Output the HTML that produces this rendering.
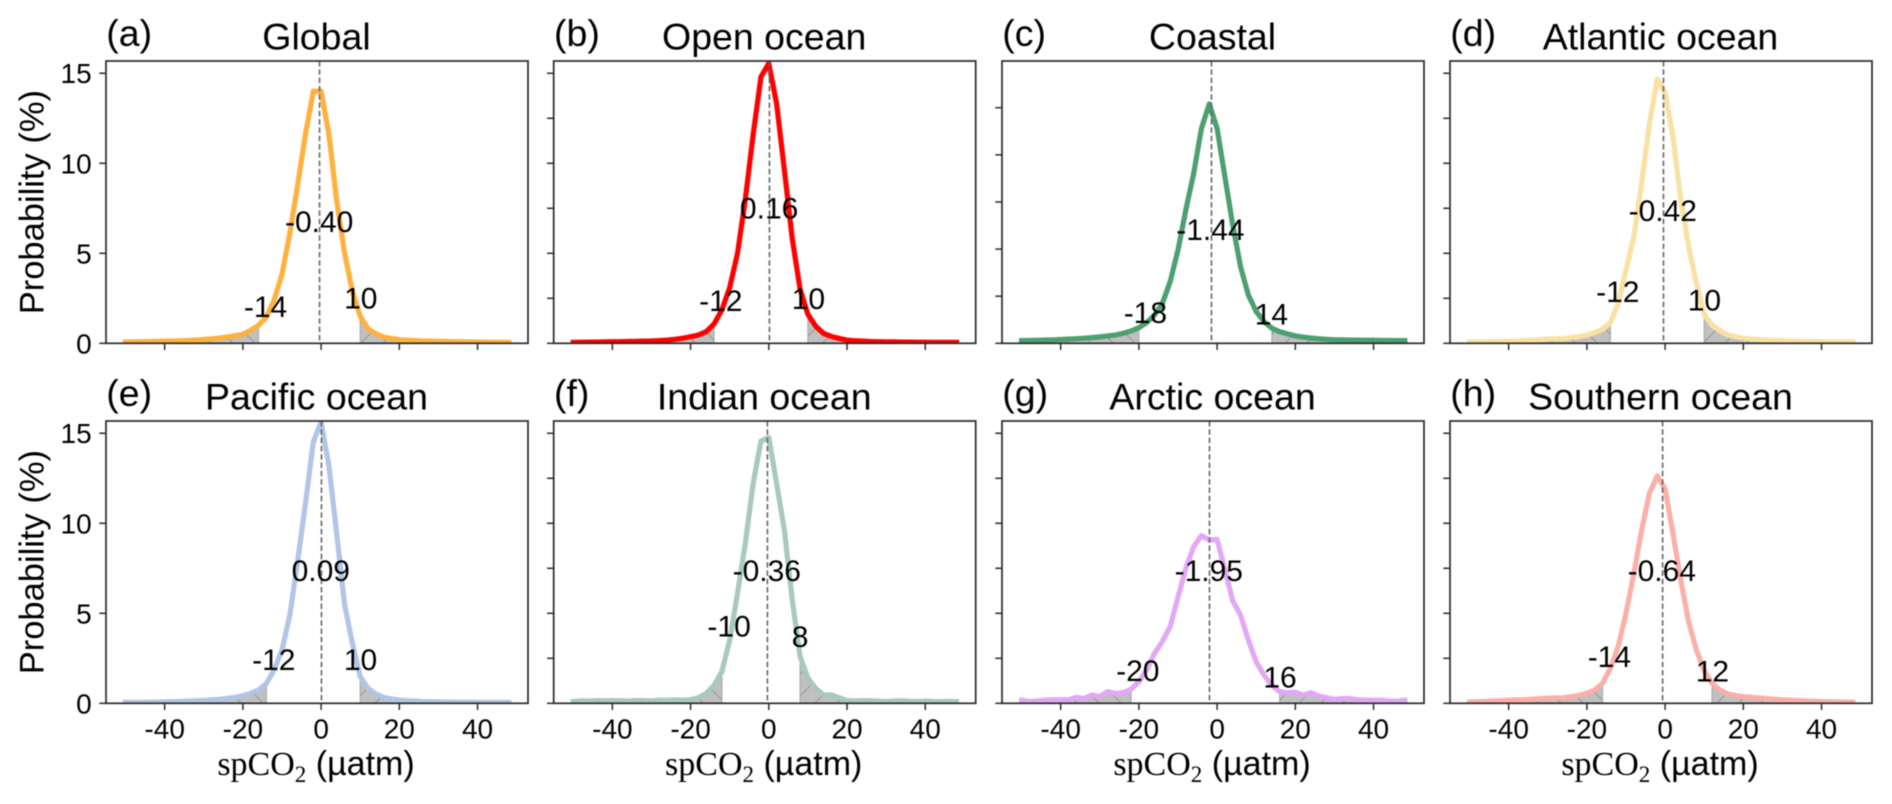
<!DOCTYPE html>
<html lang="en">
<head>
<meta charset="utf-8">
<title>spCO2 probability distributions</title>
<style>
  html, body { margin: 0; padding: 0; background: #fff; }
  body { width: 1892px; height: 804px; overflow: hidden; }
  svg { display: block; filter: blur(0.45px); }
  text { font-family: "Liberation Sans", sans-serif; fill: #000; }
</style>
</head>
<body>
<svg id="figure" xmlns="http://www.w3.org/2000/svg" width="1892" height="804" viewBox="0 0 1892 804">
  <defs>
    <pattern id="hatch-back" patternUnits="userSpaceOnUse" width="22" height="22">
      <path d="M-4,-4 L26,26 M-4,18 L4,26 M18,-4 L26,4" stroke="#969696" stroke-width="1"></path>
    </pattern>
    <pattern id="hatch-fwd" patternUnits="userSpaceOnUse" width="22" height="22">
      <path d="M-4,26 L26,-4 M-4,4 L4,-4 M18,26 L26,18" stroke="#969696" stroke-width="1"></path>
    </pattern>
  </defs>
</svg>
<script>
// ---------- shared x categories (bin centres, µatm) ----------
const bins = [-50,-48,-46,-44,-42,-40,-38,-36,-34,-32,-30,-28,-26,-24,-22,-20,-18,-16,-14,-12,-10,-8,-6,-4,-2,
              0,2,4,6,8,10,12,14,16,18,20,22,24,26,28,30,32,34,36,38,40,42,44,46,48];

// ---------- series values (probability, %) ----------
const globalProb = [.07,.08,.09,.1,.11, .12,.13,.14,.16,.18, .21,.25,.29,.35,.42, .5,.72,1.0,1.45,2.4, 3.85,6.1,8.8,11.6,14.0,
                    14.0,11.6,7.9,5.0,2.9, 1.5,.8,.53,.35,.27, .2,.17,.15,.13,.12, .11,.1,.09,.08,.08, .07,.07,.06,.06,.05];
const openProb = [.05,.06,.07,.07,.08, .09,.09,.1,.11,.12, .13,.15,.18,.22,.28, .37,.46,.65,1.07,1.85, 3.1,5.0,8.0,11.6,14.8,
                  15.55,13.3,9.6,5.8,3.0, 1.6,.95,.55,.38,.27, .18,.14,.12,.1,.09, .08,.08,.07,.07,.06, .06,.05,.05,.05,.05];
const coastalProb = [.14,.15,.16,.17,.18, .2,.22,.24,.27,.3, .34,.39,.44,.53,.65, .83,1.1,1.5,2.12,3.27, 4.95,7.07,9.0,11.4,12.7,
                     11.4,8.83,6.27,4.06,2.56, 1.68,1.15,.8,.62,.5, .39,.33,.28,.24,.21, .19,.18,.17,.17,.16, .16,.15,.15,.14,.14];
const atlanticProb = [.07,.08,.09,.1,.11, .12,.13,.15,.17,.2, .24,.25,.26,.31,.37, .46,.6,.78,1.15,2.2, 4.07,5.9,8.9,12.2,14.67,
                      13.9,11.5,8.0,5.4,3.33, 1.6,1.0,.7,.46,.37, .28,.24,.2,.18,.16, .14,.13,.12,.11,.1, .09,.09,.08,.08,.07];
const pacificProb = [.05,.05,.05,.06,.07, .08,.09,.1,.12,.14, .16,.19,.22,.27,.33, .42,.55,.74,1.1,1.85, 2.96,4.9,7.9,11.1,14.5,
                     15.63,13.2,9.4,5.5,3.33, 1.48,.83,.52,.33,.24, .18,.14,.12,.1,.09, .08,.07,.07,.06,.06, .05,.05,.05,.05,.05];
const indianProb = [.1,.14,.12,.15,.14, .15,.14,.12,.16,.15, .13,.17,.16,.19,.17, .2,.31,.55,1.0,1.76, 3.5,6.1,8.9,12.2,14.57,
                    14.76,12.2,9.6,5.74,2.6, 1.4,.83,.46,.46,.31, .15,.13,.15,.14,.12, .1,.12,.14,.11,.1, .12,.1,.09,.11,.1];
const arcticProb = [.17,.11,.13,.17,.19, .2,.2,.33,.26,.46, .37,.65,.54,.59,.78, 1.2,1.85,2.78,3.43,4.26, 5.9,7.5,8.7,9.31,9.07,
                    9.1,7.4,5.69,4.9,3.5, 2.3,1.57,1.0,.65,.59, .62,.46,.59,.4,.31, .22,.26,.26,.19,.17, .17,.17,.13,.11,.17];
const southernProb = [.07,.09,.11,.13,.15, .18,.19,.2,.23,.26, .28,.3,.31,.37,.44, .56,.74,1.11,1.94,3.15, 5.0,7.2,9.63,11.67,12.63,
                      11.9,9.44,6.85,4.54,2.96, 1.81,1.11,.74,.52,.43, .37,.33,.3,.26,.22, .19,.17,.15,.13,.12, .1,.09,.08,.07,.07];
const seriesValues = [globalProb, openProb, coastalProb, atlanticProb, pacificProb, indianProb, arcticProb, southernProb];

// ---------- per-panel statistics and labels ----------
const panelTitles = ['Global','Open ocean','Coastal','Atlantic ocean','Pacific ocean','Indian ocean','Arctic ocean','Southern ocean'];
const panelLetters = ['(a)','(b)','(c)','(d)','(e)','(f)','(g)','(h)'];
const panelSlugs = ['global','open-ocean','coastal','atlantic-ocean','pacific-ocean','indian-ocean','arctic-ocean','southern-ocean'];
const medians = [-0.40, 0.16, -1.44, -0.42, 0.09, -0.36, -1.95, -0.64];
const medianLabels = ['-0.40','0.16','-1.44','-0.42','0.09','-0.36','-1.95','-0.64'];
const lowerLabels = ['-14','-12','-18','-12','-12','-10','-20','-14'];
const upperLabels = ['10','10','14','10','10','8','16','12'];
const lowerCuts = [-16,-14,-20,-14,-14,-12,-22,-16];
const upperCuts = [10,10,14,10,10,8,16,12];

// Annotation anchors, in data units
const medianAnchorX = [-0.5,0.08,-1.71,-0.59,-0.08,-0.51,-2.12,-0.84];
const medianAnchorY = [6.18,6.93,5.47,6.79,6.79,6.79,6.79,6.79];
const lowerAnchorX = [-14.2,-12.28,-18.34,-12.1,-12.1,-10.15,-20.28,-14.25];
const lowerAnchorY = [1.46,1.79,1.08,2.29,1.85,3.7,1.24,2.03];
const upperAnchorX = [10.15,10.13,13.89,10.05,10.08,8.0,16.1,12.1];
const upperAnchorY = [1.93,1.91,1.01,1.83,1.85,3.14,0.89,1.2];

// ---------- tick labels ----------
const xTickValues = [-40,-20,0,20,40];
const yTicksLabelled = [0,5,10,15];
const yTicksFine = [0,2.5,5,7.5,10,12.5,15];
const yTicksCoastal = [0,2.5,5,7.5,10,12.5];

// ---------- styling and frame layout ----------
const lineColors = ['#ffb13d','#ff0000','#4c9f70','#f9e1a4','#b1c5e6','#a8c9bb','#e2a8f6','#fab0a8'];
const frameLefts = [106,553.7,1002,1450];
const frameWidth = 422;
const frameTops = [61,421];
const frameHeight = 282.3;
const xDomain = [-55, 52.9];
const yDomainTop = [15.68,15.68,14.98,15.68,15.68,15.68,15.68,15.68];

const NS = 'http://www.w3.org/2000/svg';
const root = document.getElementById('figure');

function make(tag, attrs, parent) {
  const node = document.createElementNS(NS, tag);
  for (const key in attrs) node.setAttribute(key, attrs[key]);
  parent.appendChild(node);
  return node;
}

seriesValues.forEach(function (values, p) {
  const col = p % 4;
  const row = Math.floor(p / 4);
  const left = frameLefts[col];
  const top = frameTops[row];
  const bottom = top + frameHeight;
  const slug = panelSlugs[p];

  const xScale = function (v) { return left + (v - xDomain[0]) / (xDomain[1] - xDomain[0]) * frameWidth; };
  const yScale = function (v) { return bottom - v / yDomainTop[p] * frameHeight; };

  const group = make('g', {}, root);
  
  

  const clip = make('clipPath', { id: 'clip-' + p }, group);
  make('rect', { x: left, y: top, width: frameWidth, height: frameHeight }, clip);

  // shaded tails
  const lowerIdx = bins.map(function (b, i) { return i; }).filter(function (i) { return bins[i] <= lowerCuts[p]; });
  const upperIdx = bins.map(function (b, i) { return i; }).filter(function (i) { return bins[i] >= upperCuts[p]; });
  const tailPath = function (idx) {
    let d = 'M' + xScale(bins[idx[0]]) + ',' + yScale(0);
    idx.forEach(function (i) { d += ' L' + xScale(bins[i]) + ',' + yScale(values[i]); });
    d += ' L' + xScale(bins[idx[idx.length - 1]]) + ',' + yScale(0) + ' Z';
    return d;
  };
  [[lowerIdx, 'hatch-back', 'lower'], [upperIdx, 'hatch-fwd', 'upper']].forEach(function (tail) {
    const base = make('path', { d: tailPath(tail[0]), fill: '#c0c0c0', stroke: '#adadad', 'stroke-width': 1.2 }, group);
    
    
    const hatch = make('path', { d: tailPath(tail[0]), fill: 'url(#' + tail[1] + ')' }, group);
    
    
  });

  // distribution line
  const pts = bins.map(function (b, i) { return xScale(b).toFixed(2) + ',' + yScale(values[i]).toFixed(2); }).join(' ');
  const line = make('polyline', {
    points: pts, fill: 'none', stroke: lineColors[p], 'stroke-width': 5.2,
    'stroke-linejoin': 'round', 'stroke-linecap': 'square', 'clip-path': 'url(#clip-' + p + ')'
  }, group);
  
  

  // median line
  const med = make('line', {
    x1: xScale(medians[p]), x2: xScale(medians[p]), y1: top, y2: bottom,
    stroke: '#666', 'stroke-width': 1.6, 'stroke-dasharray': '5.5 2.8'
  }, group);
  
  

  // frame
  const frame = make('rect', { x: left, y: top, width: frameWidth, height: frameHeight, fill: 'none', stroke: '#2a2a2a', 'stroke-width': 1.7 }, group);
  
  

  // y ticks
  const yTicks = col === 0 ? yTicksLabelled : (p === 2 ? yTicksCoastal : yTicksFine);
  yTicks.forEach(function (t) {
    const tick = make('line', { x1: left - 6.7, x2: left, y1: yScale(t), y2: yScale(t), stroke: '#2a2a2a', 'stroke-width': 1.5 }, group);
    
    
    if (col === 0) {
      const lab = make('text', { x: left - 14.3, y: yScale(t) + 10, 'text-anchor': 'end', 'font-size': 28 }, group);
      lab.textContent = String(t);
      
      
    }
  });

  // x ticks
  xTickValues.forEach(function (t) {
    const tick = make('line', { x1: xScale(t), x2: xScale(t), y1: bottom, y2: bottom + 6.7, stroke: '#2a2a2a', 'stroke-width': 1.5 }, group);
    
    
    if (row === 1) {
      const lab = make('text', { x: xScale(t), y: bottom + 35, 'text-anchor': 'middle', 'font-size': 28 }, group);
      lab.textContent = String(t);
      
      
    }
  });

  // titles
  const title = make('text', { x: left + frameWidth / 2 - 0.5, y: top - 11.7, 'text-anchor': 'middle', 'font-size': 37.5 }, group);
  title.textContent = panelTitles[p];
  
  

  const letter = make('text', { x: left + 0.3, y: top - 15, 'font-size': 37.5 }, group);
  letter.textContent = panelLetters[p];
  
  

  // annotations
  const medText = make('text', { x: xScale(medianAnchorX[p]), y: yScale(medianAnchorY[p]), 'text-anchor': 'middle', 'font-size': 30 }, group);
  medText.textContent = medianLabels[p];
  
  

  const lowText = make('text', { x: xScale(lowerAnchorX[p]), y: yScale(lowerAnchorY[p]), 'text-anchor': 'middle', 'font-size': 30 }, group);
  lowText.textContent = lowerLabels[p];
  
  

  const upText = make('text', { x: xScale(upperAnchorX[p]), y: yScale(upperAnchorY[p]), 'text-anchor': 'middle', 'font-size': 30 }, group);
  upText.textContent = upperLabels[p];
  
  

  // axis titles
  if (col === 0) {
    const yLab = make('text', {
      x: 0, y: 0, 'text-anchor': 'middle', 'font-size': 34.5,
      transform: 'translate(43.5,' + (top + frameHeight / 2) + ') rotate(-90)'
    }, group);
    yLab.textContent = 'Probability (%)';
    
    
  }
  if (row === 1) {
    const xLab = make('text', { x: left + frameWidth / 2 - 1, y: bottom + 71.7, 'text-anchor': 'middle', 'font-size': 34 }, group);
    
    
    const a = make('tspan', { 'font-family': '"Liberation Serif", serif' }, xLab);
    a.textContent = 'spCO';
    const b = make('tspan', { 'font-family': '"Liberation Serif", serif', 'font-size': 23, dy: 7 }, xLab);
    b.textContent = '2';
    const c = make('tspan', { dy: -7 }, xLab);
    c.textContent = ' (\u00B5atm)';
  }
});
</script>
</body>
</html>
